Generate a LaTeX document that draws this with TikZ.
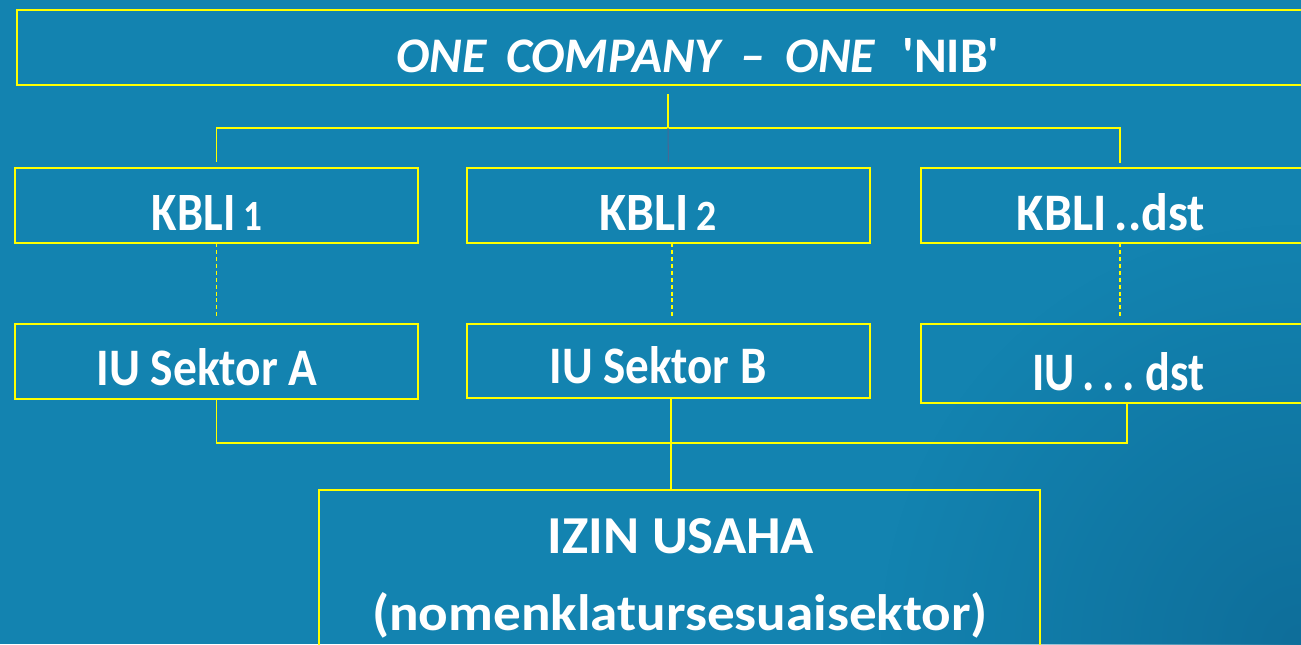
\documentclass[tikz,border=0pt]{standalone}
\usepackage{fontspec}
\setmainfont{Carlito}
\usetikzlibrary{fadings}
\newdimen\pxu \pxu=0.75pt
% scale a label to a given width and height (in pixel units)
\newcommand{\fitbox}[3]{\resizebox{#1\pxu}{#2\pxu}{#3}}
\newcommand{\lowfig}[1]{\scalebox{0.8}{#1}}
\definecolor{bg}{RGB}{19,131,176}
\definecolor{bgdark}{RGB}{14,110,154}
\definecolor{lineyellow}{RGB}{255,255,0}
\definecolor{faintline}{RGB}{70,105,150}
\tikzfading[name=cornerfade, inner color=transparent!0, outer color=transparent!100]
\begin{document}
\begin{tikzpicture}[x=0.75pt,y=-0.75pt,
  box/.style={draw=lineyellow, line width=1.2pt, inner sep=0pt, outer sep=0pt},
  kbox/.style={box, minimum width=302.25pt, minimum height=56.25pt},
  lbl/.style={text=white, font=\bfseries, inner sep=0pt, anchor=base},
  conn/.style={draw=lineyellow, line width=1.2pt},
  dashconn/.style={conn, dash pattern=on 3pt off 2.2pt}
]
\useasboundingbox (0,0) rectangle (1301,644);
\clip (0,0) rectangle (1301,644);
\fill[bg] (0,0) rectangle (1301,644);
\fill[bgdark, path fading=cornerfade] (1301,644) circle (420);

% boxes
\node[box, line width=1.5pt, minimum width=1021.5pt, minimum height=56.25pt] (top) at (698,47.5) {};
\node[kbox] (kb1) at (216.5,205.5) {};
\node[kbox] (kb2) at (668.5,205.5) {};
\node[kbox, minimum width=298.5pt] (kb3) at (1120,205.5) {};
\node[kbox] (iu1) at (216.5,361.5) {};
\node[kbox, minimum height=55.5pt] (iu2) at (668.5,361) {};
\node[kbox, minimum width=298.5pt, minimum height=59.25pt] (iu3) at (1120,363.5) {};
\node[box, minimum width=540.75pt, minimum height=157.5pt] (izin) at (679.5,595) {};

% labels
\node[lbl, font=\bfseries\itshape] (ttl) at (698,72) {\fitbox{603}{34}{ONE\hspace{.4em}COMPANY\hspace{.4em}–\hspace{.4em}ONE\hspace{.55em}\upshape\textquotesingle NIB\textquotesingle}};
\node[lbl] (t1) at (207,230) {\fitbox{110}{35}{KBLI\,\lowfig{1}}};
\node[lbl] (t2) at (658,230) {\fitbox{118}{35}{KBLI\,\lowfig{2}}};
\node[lbl] (t3) at (1111,230) {\fitbox{188}{37}{KBLI\,..dst}};
\node[lbl] (t4) at (207,385) {\fitbox{221}{37}{IU Sektor A}};
\node[lbl] (t5) at (658,383) {\fitbox{217}{37}{IU Sektor B}};
\node[lbl] (t6) at (1118,390) {\fitbox{172}{38}{IU\,.\,.\,.\ dst}};
\node[lbl] (t7) at (681,553) {\fitbox{266}{35}{IZIN USAHA}};
\node[lbl] (t8) at (680,630) {\fitbox{616}{38}{(nomenklatursesuaisektor)}};

% upper tree
\coordinate (topstub) at (668,94);
\coordinate (hub) at (668,128);
\draw[conn] (topstub) -- (hub);
\draw[conn, shorten >=4.5pt] (hub) -| (kb1.north);
\draw[conn, shorten >=4pt] (hub) -| (kb3.north);
\draw[draw=faintline, line width=0.8pt, shorten >=4.5pt] (hub) -- (kb2.north);

% dashed links
\draw[dashconn, shorten >=5pt] (kb1.south) -- (iu1.north);
\draw[dashconn, shorten >=4pt] ([xshift=2.5pt]kb2.south) -- ([xshift=2.5pt]iu2.north);
\draw[dashconn, shorten >=6pt] (kb3.south) -- (iu3.north);

% lower tree
\coordinate (bus) at (671,443);
\draw[conn] (iu1.south) |- (bus);
\draw[conn] (bus) -| ([xshift=5.25pt]iu3.south);
\draw[conn] ([xshift=2pt]iu2.south) -- ([xshift=2pt]iu2.south |- izin.north);
\end{tikzpicture}
\end{document}
